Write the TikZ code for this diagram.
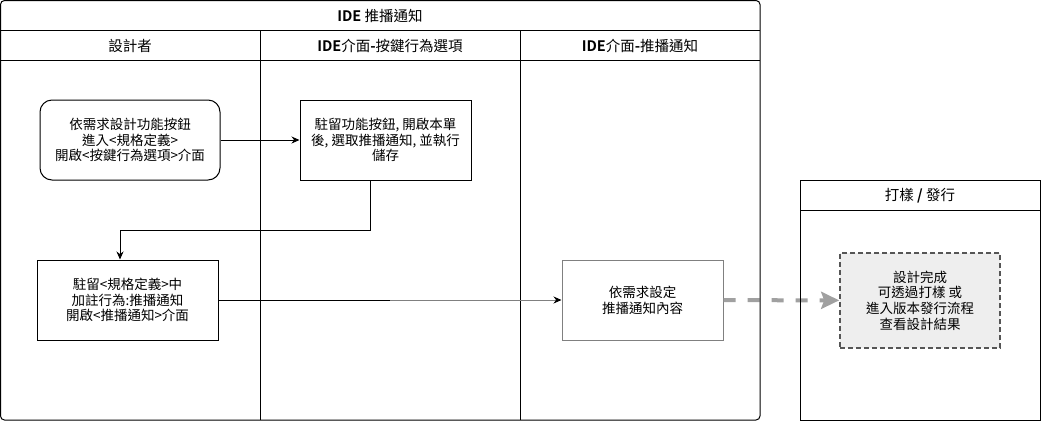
\documentclass[tikz,border=0pt]{standalone}
\usepackage{fontspec}
\setmainfont{Noto Sans CJK TC}[BoldFont={Noto Sans CJK TC Bold}]
\usetikzlibrary{arrows.meta}
\definecolor{edgegray}{HTML}{808080}
\definecolor{dashgray}{HTML}{A0A0A0}
\definecolor{notefill}{HTML}{EEEEEE}
\definecolor{notedraw}{HTML}{555555}

\begin{document}
\begin{tikzpicture}[x=1pt,y=-1pt,line width=1pt,
	lane/.style={font=\fontsize{14.5}{17}\selectfont},
	task/.style={draw,align=center,minimum height=80pt,inner sep=2pt,font=\fontsize{13.5}{15.7}\selectfont},
	flow/.style={-{Stealth[length=8pt,width=7pt,color=black]}},
	handoff/.style={draw=dashgray,line width=4pt,dash pattern=on 12pt off 12pt,-{Stealth[length=18pt,width=17pt,inset=3pt]}}]
\useasboundingbox (0,0) rectangle (1041,421);

\node [task,rounded corners=12pt,minimum width=180pt] (a) at (130,140) {依需求設計功能按鈕\\進入<規格定義>\\開啟<按鍵行為選項>介面};
\node [task,minimum width=171pt] (b) at (385.5,140) {駐留功能按鈕, 開啟本單\\後, 選取推播通知, 並執行\\儲存};
\node [task,minimum width=181pt] (c) at (127.5,300) {駐留<規格定義>中\\加註行為:推播通知\\開啟<推播通知>介面};
\node [task,draw=edgegray,minimum width=161pt] (d) at (642.5,300) {依需求設定\\推播通知內容};
\node [task,fill=notefill,draw=notedraw,dash pattern=on 5pt off 3pt,line width=1.6pt,minimum width=160pt,minimum height=95pt] (e) at (920,300.5) {設計完成\\可透過打樣 或\\進入版本發行流程\\查看設計結果};

\draw [handoff] (d) -- (e);

% IDE pool
\draw [rounded corners=4pt] (0.5,0.5) rectangle (760,420);
\draw (0.5,30) -- (760,30);
\draw (0.5,60) -- (760,60);
\draw (260,30) -- (260,420);
\draw (520,30) -- (520,420);
\node [lane] (pool) at (380,16) {\textbf{IDE} 推播通知};
\node [lane] (l1) at (130,45.5) {設計者};
\node [lane] (l2) at (390,45.5) {\textbf{IDE}介面\textbf{-}按鍵行為選項};
\node [lane] (l3) at (640,45.5) {\textbf{IDE}介面\textbf{-}推播通知};

% release pool
\draw (800,180) rectangle (1040,420);
\draw (800,210) -- (1040,210);
\node [lane] (l4) at (920,195.5) {打樣 \textbf{/} 發行};

\draw [flow] (a) -- (b);
\draw [flow] ([xshift=-15.5pt]b.south) -- ++(0,50) -| ([xshift=-7.5pt]c.north);
\coordinate (mid) at (390,300);
\draw (c) -- (mid);
\draw [flow,draw=edgegray] (mid) -- (d);
\end{tikzpicture}
\end{document}
